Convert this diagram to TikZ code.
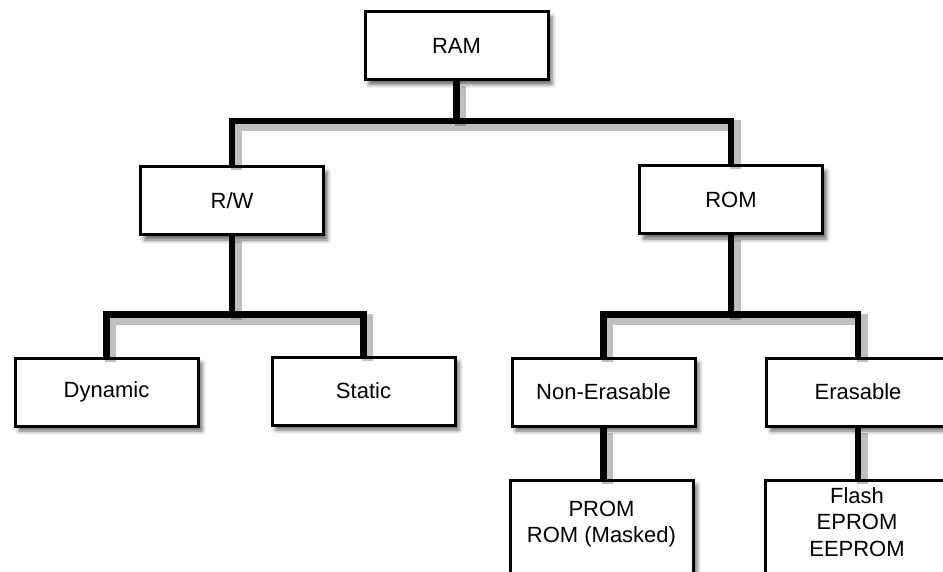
\documentclass[tikz,border=0pt]{standalone}
\usepackage{fontspec}
\setmainfont{Liberation Sans}
\usetikzlibrary{calc,shadows.blur}

\begin{document}
\begin{tikzpicture}[x=1pt,y=-1pt,
    font=\fontsize{22}{26.4}\selectfont,
    box/.style={draw,line width=3pt,fill=white,
        minimum width=183pt,minimum height=68pt,inner sep=2pt,
        blur shadow={shadow xshift=4pt,shadow yshift=-5pt,
            shadow blur radius=4pt,shadow opacity=60}},
    tallbox/.style={box,anchor=north,align=center,
        minimum height=112pt,text depth=28pt},
    link/.style={line width=6.5pt,
        preaction={draw=black,opacity=0.25,line width=11pt,
            transform canvas={shift={(4pt,-5pt)}}}}]
    \def\drop{40} % stem below a box down to its bar

    \useasboundingbox (0,0) rectangle (943,572);
    \clip (0,0) rectangle (943,572);

    %======================================================
    % boxes
    %======================================================
    \node[box] (ram) at (456.5,45.5) {RAM};

    \node[box] (rw)  at (232,201) {R/W};
    \node[box] (rom) at (731,200) {ROM};

    \node[box] (dyn)      at (106.5,392) {Dynamic};
    \node[box] (stat)     at (363.5,391) {Static};
    \node[box] (nonerase) at (603.5,392) {Non-Erasable};
    \node[box] (erase)    at (858,392)   {Erasable};

    % lower boxes run off the page
    \node[tallbox] (prom)  at (601.5,478.5) {PROM\\ROM (Masked)};
    \node[tallbox] (flash) at (857,478.5)   {Flash\\EPROM\\EEPROM};

    %======================================================
    % connectors
    %======================================================
    \coordinate (j1) at ($(ram.south)+(0,\drop)$);
    \coordinate (j2) at ($(rw.south)+(0,78)$);
    \coordinate (j3) at ($(rom.south)+(0,79)$);

    \draw[link] (ram.south) -- (j1);
    \draw[link] (rw.north) |- (j1) -| (rom.north);

    \draw[link] (rw.south) -- (j2);
    \draw[link] (dyn.north) |- (j2) -| (stat.north);

    \draw[link] (rom.south) -- (j3);
    \draw[link] (nonerase.north) |- (j3) -| (erase.north);

    \draw[link] (nonerase.south) -- (nonerase.south |- prom.north);
    \draw[link] (erase.south) -- (erase.south |- flash.north);
\end{tikzpicture}
\end{document}
